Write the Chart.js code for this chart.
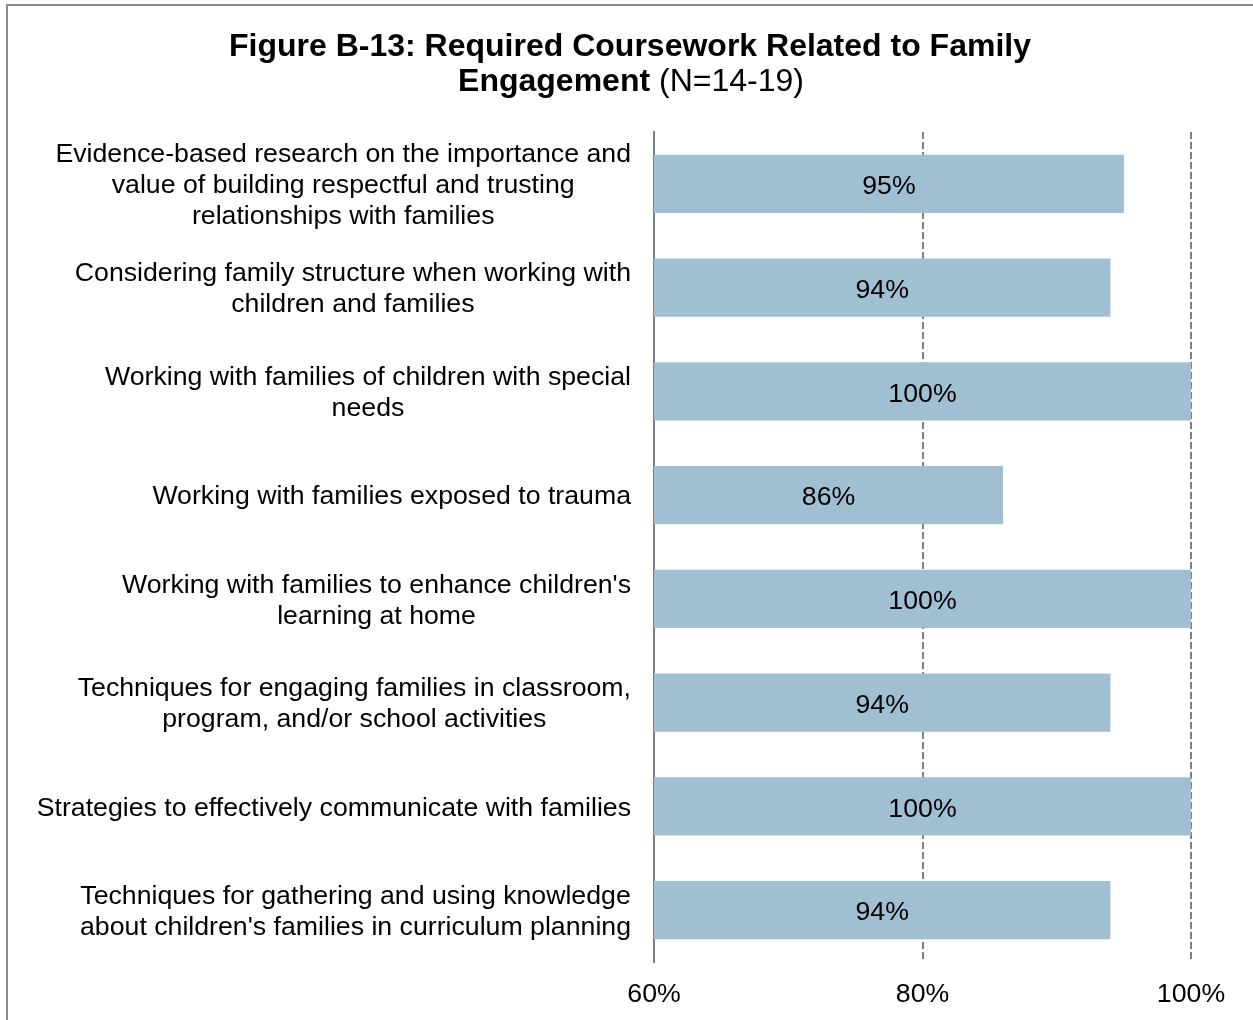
<!DOCTYPE html>
<html>
<head>
<meta charset="utf-8">
<script src="https://cdn.jsdelivr.net/npm/chart.js@4.4.1/dist/chart.umd.min.js"></script>
<style>
html,body{margin:0;padding:0;background:#fff;}
#wrap{position:absolute;left:0;top:0;width:1253px;height:1020px;}
</style>
</head>
<body>
<div id="wrap"><canvas id="c" width="1253" height="1020"></canvas></div>
<script>
const titleLine1 = "Figure B-13: Required Coursework Related to Family";
const titleLine2Bold = "Engagement";
const titleLine2Normal = " (N=14-19)";
const categories = [
  ["Evidence-based research on the importance and", "value of building respectful and trusting", "relationships with families"],
  ["Considering family structure when working with", "children and families"],
  ["Working with families of children with special", "needs"],
  ["Working with families exposed to trauma"],
  ["Working with families to enhance children's", "learning at home"],
  ["Techniques for engaging families in classroom,", "program, and/or school activities"],
  ["Strategies to effectively communicate with families"],
  ["Techniques for gathering and using knowledge", "about children's families in curriculum planning"]
];
const values = [95, 94, 100, 86, 100, 94, 100, 94];
const xTicks = [60, 80, 100];

const FONT = '"Liberation Sans", Arial, sans-serif';
const FS = 26.7;
const GRAY = '#808080';
const BAR = '#A0BFD3';

const framePlugin = {
  id: 'frame',
  beforeDraw(chart) {
    const ctx = chart.ctx;
    ctx.save();
    ctx.strokeStyle = '#8c8c8c';
    ctx.lineWidth = 2;
    ctx.strokeRect(7, 5, 1400, 1200);
    ctx.fillStyle = '#000';
    ctx.textBaseline = 'middle';
    ctx.textAlign = 'center';
    ctx.font = 'bold 32px ' + FONT;
    ctx.fillText(titleLine1, 630, 47);
    const bw = ctx.measureText(titleLine2Bold).width;
    ctx.font = '32px ' + FONT;
    const nw = ctx.measureText(titleLine2Normal).width;
    const start = 631 - (bw + nw) / 2;
    ctx.textAlign = 'left';
    ctx.font = 'bold 32px ' + FONT;
    ctx.fillText(titleLine2Bold, start, 82);
    ctx.font = '32px ' + FONT;
    ctx.fillText(titleLine2Normal, start + bw, 82);
    ctx.restore();
  }
};

const labelPlugin = {
  id: 'labels',
  afterDatasetsDraw(chart) {
    const ctx = chart.ctx;
    const yScale = chart.scales.y;
    const meta = chart.getDatasetMeta(0);
    const left = chart.chartArea.left;
    ctx.save();
    ctx.fillStyle = '#000';
    ctx.textBaseline = 'middle';
    ctx.textAlign = 'center';
    ctx.font = FS + 'px ' + FONT;
    const right = 631;
    const lh = 31;
    categories.forEach((lines, i) => {
      const cy = yScale.getPixelForValue(i) + 2;
      const maxW = Math.max(...lines.map(l => ctx.measureText(l).width));
      const cx = right - maxW / 2;
      lines.forEach((l, j) => {
        ctx.fillText(l, cx, cy + (j - (lines.length - 1) / 2) * lh);
      });
    });
    meta.data.forEach((bar, i) => {
      const start = Math.max(bar.base, left);
      const cx = (start + bar.x) / 2;
      ctx.fillText(values[i] + '%', cx, bar.y + 3);
    });
    ctx.restore();
  }
};

new Chart(document.getElementById('c'), {
  type: 'bar',
  data: {
    labels: categories,
    datasets: [{
      data: values,
      backgroundColor: BAR,
      borderWidth: 0,
      barPercentage: 0.56,
      categoryPercentage: 1.0
    }]
  },
  options: {
    indexAxis: 'y',
    responsive: false,
    animation: false,
    devicePixelRatio: 1,
    layout: { padding: { top: 132, right: 62, bottom: 11, left: 0 } },
    plugins: { legend: { display: false }, tooltip: { enabled: false }, title: { display: false } },
    scales: {
      x: {
        min: 60, max: 100,
        afterBuildTicks(scale) { scale.ticks = xTicks.map(v => ({ value: v })); },
        afterFit(scale) { scale.height = 47; },
        ticks: {
          callback: v => v + '%',
          color: '#000',
          font: { family: FONT, size: FS },
          padding: 17,
          maxRotation: 0
        },
        grid: {
          drawTicks: false,
          lineWidth: 2,
          color: ctx => (ctx.tick && ctx.tick.value === 60) ? 'rgba(0,0,0,0)' : GRAY
        },
        border: { display: false, dash: [7, 3] }
      },
      y: {
        ticks: { display: false },
        grid: { display: false, drawTicks: false },
        border: { display: true, color: GRAY, width: 2 },
        afterFit(scale) { scale.width = 654; }
      }
    }
  },
  plugins: [framePlugin, labelPlugin]
});
</script>
</body>
</html>
